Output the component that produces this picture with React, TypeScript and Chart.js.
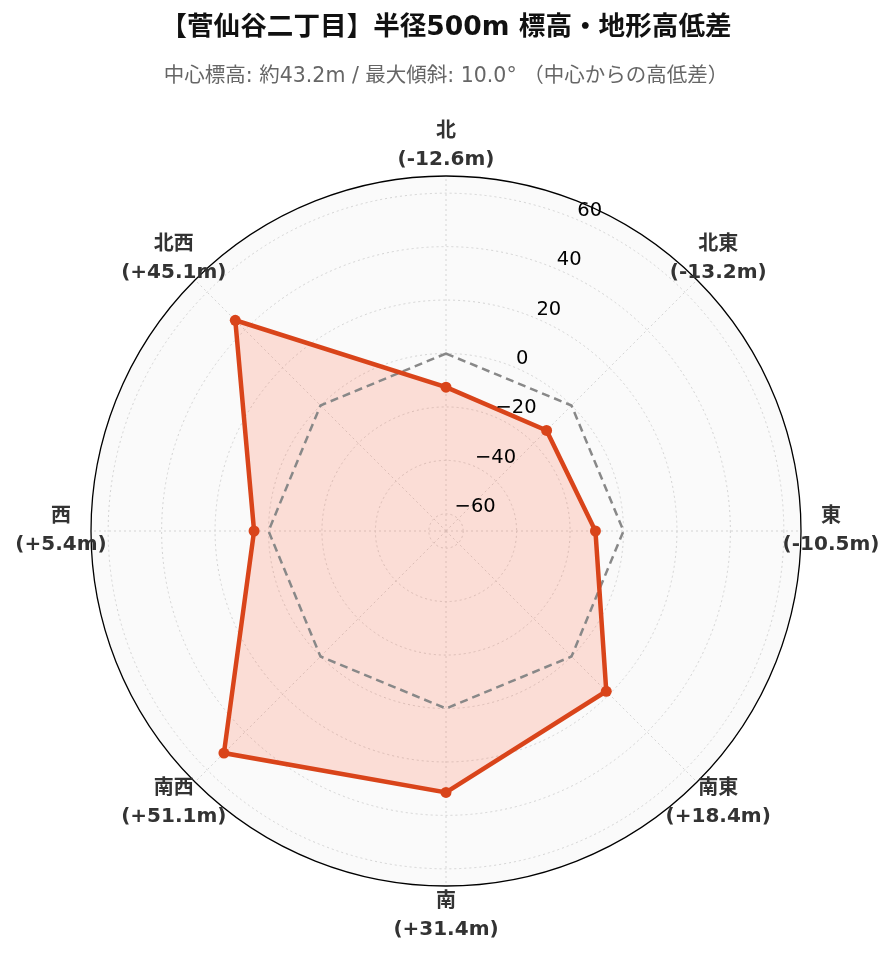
import React, { useEffect, useRef } from 'react';
import { Chart, registerables } from 'chart.js';

Chart.register(...registerables);

const DIRECTIONS = ['北', '北東', '東', '南東', '南', '南西', '西', '北西'];
const ELEV_DIFF = [-12.6, -13.2, -10.5, 18.4, 31.4, 51.1, 5.4, 45.1];
const ZERO_REF = [0, 0, 0, 0, 0, 0, 0, 0];
const R_TICKS = [-60, -40, -20, 0, 20, 40, 60];
const TITLE = '【菅仙谷二丁目】半径500m 標高・地形高低差';
const SUBTITLE = '中心標高: 約43.2m / 最大傾斜: 10.0° （中心からの高低差）';

const R_LIMIT = Math.max(...ELEV_DIFF.map((v) => Math.abs(v))) * 1.3;

const FONT = "'DejaVu Sans', 'Noto Sans CJK JP', sans-serif";
const LINE_COLOR = '#D9441A';

const fmtDiff = (v: number) => `(${v >= 0 ? '+' : ''}${v.toFixed(1)}m)`;
const fmtTick = (v: number) => (v < 0 ? '\u2212' + Math.abs(v) : String(v));

const polarDecor = {
  id: 'polarDecor',
  beforeDraw(chart: any) {
    const s = chart.scales.r;
    const ctx = chart.ctx;
    ctx.save();
    ctx.beginPath();
    ctx.arc(s.xCenter, s.yCenter, s.drawingArea, 0, Math.PI * 2);
    ctx.fillStyle = '#fafafa';
    ctx.fill();
    ctx.restore();
  },
  afterDatasetsDraw(chart: any) {
    const s = chart.scales.r;
    const ctx = chart.ctx;
    ctx.save();
    ctx.beginPath();
    ctx.arc(s.xCenter, s.yCenter, s.drawingArea, 0, Math.PI * 2);
    ctx.strokeStyle = '#000';
    ctx.lineWidth = 1.3;
    ctx.stroke();
    ctx.restore();
  },
  afterDraw(chart: any) {
    const s = chart.scales.r;
    const ctx = chart.ctx;
    ctx.save();
    ctx.font = `19.5px ${FONT}`;
    ctx.fillStyle = '#000';
    ctx.textAlign = 'left';
    ctx.textBaseline = 'alphabetic';
    R_TICKS.forEach((v) => {
      const p = s.getPointPositionForValue(0.5, v);
      ctx.fillText(fmtTick(v), p.x + 2, p.y - 3);
    });
    ctx.font = `bold 20px ${FONT}`;
    ctx.fillStyle = '#333';
    ctx.textAlign = 'center';
    ctx.textBaseline = 'middle';
    DIRECTIONS.forEach((d, i) => {
      const p = s.getPointPosition(i, 385);
      ctx.fillText(d, p.x, p.y - 14);
      ctx.fillText(fmtDiff(ELEV_DIFF[i]), p.x, p.y + 14);
    });
    ctx.restore();
  },
};

export default function App() {
  const ref = useRef<HTMLCanvasElement>(null);
  useEffect(() => {
    if (!ref.current) return;
    const chart = new Chart(ref.current, {
      type: 'radar',
      data: {
        labels: DIRECTIONS,
        datasets: [
          {
            data: ELEV_DIFF,
            borderColor: LINE_COLOR,
            backgroundColor: 'rgba(255,90,50,0.18)',
            borderWidth: 4.5,
            pointRadius: 5.5,
            pointBackgroundColor: LINE_COLOR,
            pointBorderColor: LINE_COLOR,
            pointBorderWidth: 0,
            fill: 'start',
            tension: 0,
          },
          {
            data: ZERO_REF,
            borderColor: '#888888',
            borderDash: [8, 5],
            borderWidth: 2.5,
            pointRadius: 0,
            fill: false,
          },
        ],
      },
      options: {
        responsive: false,
        animation: false,
        layout: { padding: { left: 91, right: 95, top: 0, bottom: 76 } },
        plugins: {
          legend: { display: false },
          tooltip: { enabled: false },
          filler: { drawTime: 'beforeDatasetsDraw' },
          title: {
            display: true,
            text: TITLE,
            color: '#111',
            font: { family: FONT, size: 26.6, weight: 'bold' },
            padding: { top: 12, bottom: 0 },
          },
          subtitle: {
            display: true,
            text: SUBTITLE,
            color: '#666',
            font: { family: FONT, size: 20.5 },
            padding: { top: 20, bottom: 87.48 },
          },
        },
        scales: {
          r: {
            min: -R_LIMIT,
            max: R_LIMIT,
            startAngle: 0,
            afterBuildTicks: (scale: any) => {
              scale.ticks = R_TICKS.map((v) => ({ value: v }));
            },
            ticks: { display: false },
            pointLabels: { display: false },
            grid: { circular: true, color: '#d4d4d4', lineWidth: 1 },
            border: { dash: [2, 3] },
            angleLines: { display: true, color: '#d4d4d4', lineWidth: 1, borderDash: [2, 3] },
          },
        },
      },
      plugins: [polarDecor],
    } as any);
    return () => chart.destroy();
  }, []);
  return (
    <div style={{ position: 'absolute', left: 0, top: 0, width: 896, height: 962, background: '#fff' }}>
      <canvas ref={ref} width={896} height={962} style={{ display: 'block' }} />
    </div>
  );
}
